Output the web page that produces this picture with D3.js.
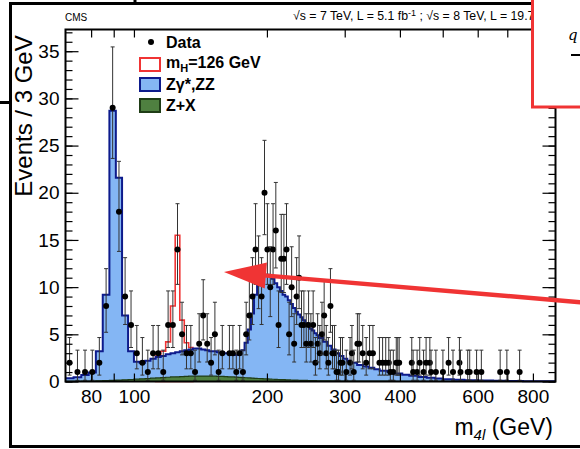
<!DOCTYPE html>
<html>
<head>
<meta charset="utf-8">
<script src="https://cdn.jsdelivr.net/npm/d3@7"></script>
<style>
body { margin: 0; background: #fff; }
svg { display: block; font-family: "Liberation Sans", Arial, Helvetica, sans-serif; }
</style>
</head>
<body>
<svg width="580" height="449"></svg>
<script>
// background histograms: 3 GeV bins up to 262 GeV, wider bins above (visually smooth there)
var binEdges = d3.range(70, 263, 3).concat([268, 274, 280, 286, 292, 298, 304, 310, 320, 330, 340, 350,
  360, 375, 390, 405, 420, 440, 460, 480, 500, 530, 560, 600, 650, 700, 760, 820, 900]);

var zxValues = [0.01, 0.02, 0.03, 0.05, 0.07, 0.09, 0.12, 0.15, 0.18, 0.21,
  0.25, 0.28, 0.32, 0.35, 0.38, 0.42, 0.45, 0.48, 0.5, 0.52,
  0.54, 0.56, 0.57, 0.58, 0.58, 0.58, 0.57, 0.56, 0.55, 0.54,
  0.52, 0.5, 0.48, 0.46, 0.44, 0.42, 0.4, 0.38, 0.36, 0.34,
  0.32, 0.3, 0.28, 0.27, 0.25, 0.24, 0.22, 0.21, 0.2, 0.19,
  0.18, 0.17, 0.16, 0.15, 0.14, 0.13, 0.12, 0.12, 0.11, 0.1, 0.1, 0.09, 0.09, 0.08,
  0.08, 0.07, 0.07, 0.06, 0.06, 0.05, 0.05, 0.05, 0.04, 0.04, 0.04, 0.03, 0.03, 0.03,
  0.03, 0.02, 0.02, 0.02, 0.02, 0.02, 0.01, 0.01, 0.01, 0.01, 0.01, 0.01, 0, 0, 0];

var zzValues = [0.34, 0.43, 0.67, 0.9, 3.13, 9.11, 28.58, 21.45, 6.82, 2.99,
  1.85, 1.72, 1.88, 2.05, 2.22, 2.28, 2.45, 2.52, 2.6, 2.68,
  2.76, 2.84, 2.93, 2.92, 2.82, 2.72, 2.63, 2.64, 2.55, 2.56,
  2.48, 2.5, 2.42, 2.34, 2.46, 2.88, 3.7, 5.12, 6.84, 8.86,
  9.88, 10.5, 10.92, 11.03, 10.95, 10.66, 10.18, 9.79, 9.4, 9.01,
  8.82, 8.43, 8.04, 7.65, 7.26, 6.97, 6.68, 6.38, 6.09, 5.8, 5.5, 5.31, 5.01, 4.82,
  4.52, 4.13, 3.73, 3.34, 2.94, 2.65, 2.35, 2.15, 1.96, 1.71, 1.56, 1.42, 1.27, 1.12,
  0.97, 0.83, 0.7, 0.58, 0.46, 0.38, 0.31, 0.24, 0.18, 0.13, 0.09, 0.06, 0.05, 0.03, 0.02];

// mH = 126 GeV signal, stacked on top
var sigEdges = [112, 115, 118, 121, 124, 127, 130, 133, 136];
var sigValues = [0.1, 0.5, 1.3, 5.0, 12.4, 3.3, 0.8, 0.2];

// data: bin centre (GeV) and events
var dataMass = [71.5, 74.5, 77.5, 80.5, 83.5, 86.5, 89.5, 92.5, 95.5, 98.5,
  101.5, 104.5, 107.5, 110.5, 113.5, 116.5, 119.5, 122.5, 125.5, 128.5,
  131.5, 134.5, 137.5, 140.5, 143.5, 146.5, 149.5, 152.5, 155.5, 158.5,
  164.5, 167.5, 170.5, 173.5, 176.5, 179.5, 182.5, 185.5, 188.5, 191.5,
  194.5, 197.5, 200.5, 203.5, 206.5, 209.5, 212.5, 215.5, 218.5, 221.5,
  224.5, 227.5, 230.5, 233.5, 236.5, 239.5, 242.5, 245.5, 248.5, 251.5,
  254.5, 257.5, 260.5, 263.5, 266.5, 269.5, 272.5, 275.5, 278.5, 281.5,
  284.5, 287.5, 290.5, 293.5, 296.5, 302.5, 308.5, 311.5, 314.5, 320.5,
  323.5, 329.5, 335.5, 341.5, 347.5, 359.5, 365.5, 371.5, 377.5, 380.5,
  386.5, 392.5, 395.5, 398.5, 425.5, 428.5, 437.5, 443.5, 452.5, 458.5,
  467.5, 470.5, 482.5, 500.5, 515.5, 527.5, 545.5, 548.5, 569.5, 575.5,
  596.5, 611.5, 674.5, 698.5, 746.5];
var dataCount = [2, 1, 1, 1, 2, 8, 29, 18, 9, 6,
  3, 2, 1, 3, 3, 1, 6, 6, 14, 5,
  3, 3, 1, 4, 7, 4, 2, 5, 1, 3,
  3, 3, 1, 3, 1, 5, 7, 9, 14, 11,
  9, 20, 14, 10, 14, 16, 6, 13, 13, 14,
  5, 10, 4, 9, 11, 6, 6, 4, 6, 4,
  6, 2, 4, 3, 5, 7, 3, 2, 8, 3,
  3, 1, 1, 2, 2, 1, 2, 3, 1, 4,
  4, 3, 2, 3, 3, 2, 2, 2, 2, 1,
  1, 2, 2, 2, 2, 1, 1, 2, 1, 2,
  2, 1, 1, 1, 2, 1, 2, 1, 1, 1,
  1, 1, 1, 1, 1];

var xTickLabels = [80, 100, 200, 300, 400, 600, 800];
var xTickMarks = [80, 90, 100, 200, 300, 400, 500, 600, 700, 800];
var yTickLabels = [0, 5, 10, 15, 20, 25, 30, 35];

var svg = d3.select("svg");
var x = d3.scaleLog().domain([70, 900]).range([65.5, 555.5]);
var y = d3.scaleLinear().domain([0, 37.3]).range([381.5, 29.5]);

var blueFill = "#84b6f4", blueLine = "#0d1b8c";
var greenFill = "#4f8040", greenLine = "#1f3d16";
var red = "#f03434";

// stacked totals per bin
var zxTop = zxValues.slice();
var zzTop = zzValues.map(function(d, i){return d + zxValues[i];});
var sigTop = sigValues.map(function(d, i){
  var k = binEdges.indexOf(sigEdges[i]);
  return d + zzTop[k];
});

var histArea = function(edges, vals)
{
  var pts = vals.map(function(v, i){return [edges[i], v];});
  pts.push([edges[vals.length], vals[vals.length - 1]]);
  return d3.area()
    .x(function(d){return x(d[0]);})
    .y0(y(0))
    .y1(function(d){return y(d[1]);})
    .curve(d3.curveStepAfter)(pts);
};
var histLine = function(edges, vals)
{
  var pts = vals.map(function(v, i){return [edges[i], v];});
  pts.push([edges[vals.length], vals[vals.length - 1]]);
  return d3.line()
    .x(function(d){return x(d[0]);})
    .y(function(d){return y(d[1]);})
    .curve(d3.curveStepAfter)(pts);
};

// signal (white fill, red outline) under the backgrounds
svg.append("path").attr("d", histArea(sigEdges, sigTop))
  .attr("fill", "#fff").attr("stroke", red).attr("stroke-width", 1.6);
svg.append("path").attr("d", histArea(binEdges, zzTop)).attr("fill", blueFill);
svg.append("path").attr("d", histLine(binEdges, zzTop))
  .attr("fill", "none").attr("stroke", blueLine).attr("stroke-width", 2);
svg.append("path").attr("d", histArea(binEdges, zxTop)).attr("fill", greenFill);
svg.append("path").attr("d", histLine(binEdges, zxTop))
  .attr("fill", "none").attr("stroke", greenLine).attr("stroke-width", 1.2);

// data with poisson error bars
var data = dataMass.map(function(m, i){
  var n = dataCount[i];
  return {m: m, n: n, lo: n - Math.sqrt(n - 0.25), hi: n + 1 + Math.sqrt(n + 0.75)};
});
var pts = svg.append("g").selectAll("g").data(data).enter().append("g");
pts.append("line")
  .attr("x1", function(d){return x(d.m);}).attr("x2", function(d){return x(d.m);})
  .attr("y1", function(d){return y(d.lo);}).attr("y2", function(d){return y(d.hi);})
  .attr("stroke", "#333").attr("stroke-width", 1);
pts.selectAll(".cap").data(function(d){return [[d.m, d.lo], [d.m, d.hi]];})
  .enter().append("line")
  .attr("x1", function(d){return x(d[0]) - 2;}).attr("x2", function(d){return x(d[0]) + 2;})
  .attr("y1", function(d){return y(d[1]);}).attr("y2", function(d){return y(d[1]);})
  .attr("stroke", "#333").attr("stroke-width", 1);
pts.append("circle")
  .attr("cx", function(d){return x(d.m);}).attr("cy", function(d){return y(d.n);})
  .attr("r", 3).attr("fill", "#000");

// axes, ticks pointing inwards on all four sides
var tickStyle = function(g)
{
  g.select(".domain").remove();
  g.selectAll("line").attr("stroke", "#000").attr("stroke-width", 1.2);
  g.selectAll("text").attr("font-size", 19).attr("fill", "#000")
    .attr("font-family", "Liberation Sans, Arial, sans-serif");
};
svg.append("g").attr("transform", "translate(0,381.5)")
  .call(d3.axisBottom(x).tickValues(xTickMarks).tickSize(-8).tickFormat(""))
  .call(tickStyle);
svg.append("g").attr("transform", "translate(0,381.5)")
  .call(d3.axisBottom(x).tickValues(xTickLabels).tickSize(0).tickPadding(8).tickFormat(d3.format("d")))
  .call(tickStyle);
svg.append("g").attr("transform", "translate(0,29.5)")
  .call(d3.axisTop(x).tickValues(xTickMarks).tickSize(-8).tickFormat(""))
  .call(tickStyle);

svg.append("g").attr("transform", "translate(65.5,0)")
  .call(d3.axisLeft(y).tickValues(d3.range(0, 38)).tickSize(-7).tickFormat(""))
  .call(tickStyle);
svg.append("g").attr("transform", "translate(65.5,0)")
  .call(d3.axisLeft(y).tickValues(yTickLabels).tickSize(-13).tickPadding(6).tickFormat(d3.format("d")))
  .call(tickStyle);
svg.append("g").attr("transform", "translate(555.5,0)")
  .call(d3.axisRight(y).tickValues(d3.range(0, 38)).tickSize(-7).tickFormat(""))
  .call(tickStyle);
svg.append("g").attr("transform", "translate(555.5,0)")
  .call(d3.axisRight(y).tickValues(yTickLabels).tickSize(-13).tickFormat(""))
  .call(tickStyle);

svg.append("rect").attr("x", 65.5).attr("y", 29.5).attr("width", 490).attr("height", 352)
  .attr("fill", "none").attr("stroke", "#000").attr("stroke-width", 2);

// axis titles
svg.append("text").attr("transform", "translate(32,116) rotate(-90)")
  .attr("text-anchor", "middle").attr("font-size", 24).text("Events / 3 GeV");
var xt = svg.append("text").attr("x", 553).attr("y", 435).attr("text-anchor", "end").attr("font-size", 23);
xt.append("tspan").text("m");
xt.append("tspan").attr("font-size", 15).attr("font-style", "italic").attr("dy", 5).text("4l");
xt.append("tspan").attr("dy", -5).text(" (GeV)");

// header
svg.append("text").attr("x", 65).attr("y", 21).attr("font-size", 10).text("CMS");
var ht = svg.append("text").attr("x", 293).attr("y", 20).attr("font-size", 12.3);
ht.append("tspan").text("\u221As = 7 TeV, L = 5.1 fb");
ht.append("tspan").attr("font-size", 9).attr("dy", -4).text("-1");
ht.append("tspan").attr("dy", 4).text(" ; \u221As = 8 TeV, L = 19.7 fb");
ht.append("tspan").attr("font-size", 9).attr("dy", -4).text("-1");

// legend
var leg = svg.append("g").attr("font-size", 16).attr("font-weight", "bold");
leg.append("circle").attr("cx", 151).attr("cy", 42).attr("r", 3).attr("fill", "#000");
leg.append("text").attr("x", 166).attr("y", 48).text("Data");
leg.append("rect").attr("x", 140).attr("y", 58).attr("width", 20).attr("height", 13)
  .attr("fill", "#fff").attr("stroke", red).attr("stroke-width", 2);
var lt = leg.append("text").attr("x", 166).attr("y", 68);
lt.append("tspan").text("m");
lt.append("tspan").attr("font-size", 11).attr("dy", 4).text("H");
lt.append("tspan").attr("dy", -4).text("=126 GeV");
leg.append("rect").attr("x", 140).attr("y", 78).attr("width", 20).attr("height", 13)
  .attr("fill", blueFill).attr("stroke", blueLine).attr("stroke-width", 2);
leg.append("text").attr("x", 166).attr("y", 90).text("Z\u03b3*,ZZ");
leg.append("rect").attr("x", 140).attr("y", 99).attr("width", 20).attr("height", 13)
  .attr("fill", greenFill).attr("stroke", greenLine).attr("stroke-width", 2);
leg.append("text").attr("x", 166).attr("y", 111).text("Z+X");

// slide decorations: black outer frame pieces
var deco = svg.append("g").attr("stroke", "#000").attr("stroke-width", 3).attr("fill", "none");
deco.append("line").attr("x1", 9).attr("x2", 580).attr("y1", 3.5).attr("y2", 3.5);
deco.append("line").attr("x1", 10.5).attr("x2", 10.5).attr("y1", 3).attr("y2", 447);
deco.append("line").attr("x1", 9).attr("x2", 580).attr("y1", 446.5).attr("y2", 446.5);
deco.append("line").attr("x1", 0).attr("x2", 11).attr("y1", 102.5).attr("y2", 102.5);
deco.append("line").attr("x1", 135).attr("x2", 135).attr("y1", 0).attr("y2", 4);

// red callout box (cut off at the right)
svg.append("rect").attr("x", 532.5).attr("y", -10).attr("width", 60).attr("height", 117)
  .attr("fill", "#fff").attr("stroke", red).attr("stroke-width", 3);
svg.append("text").attr("x", 568).attr("y", 40).attr("font-family", "DejaVu Serif, serif")
  .attr("font-style", "italic").attr("font-size", 15).text("q");
svg.append("line").attr("x1", 571).attr("x2", 581).attr("y1", 55).attr("y2", 55)
  .attr("stroke", "#000").attr("stroke-width", 2);

// red arrow pointing at the excess
var tip = [224, 272], tail = [590, 303];
var dx = tail[0] - tip[0], dy = tail[1] - tip[1], len = Math.sqrt(dx*dx + dy*dy);
var ux = dx/len, uy = dy/len, hl = 42, hw = 13;
var bx = tip[0] + ux*hl, by = tip[1] + uy*hl;
svg.append("line").attr("x1", bx - ux*2).attr("y1", by - uy*2).attr("x2", tail[0]).attr("y2", tail[1])
  .attr("stroke", red).attr("stroke-width", 4.5);
svg.append("path")
  .attr("d", "M" + tip[0] + "," + tip[1] +
    "L" + (bx - uy*hw) + "," + (by + ux*hw) +
    "L" + (bx + uy*hw) + "," + (by - ux*hw) + "Z")
  .attr("fill", red);
</script>
</body>
</html>
